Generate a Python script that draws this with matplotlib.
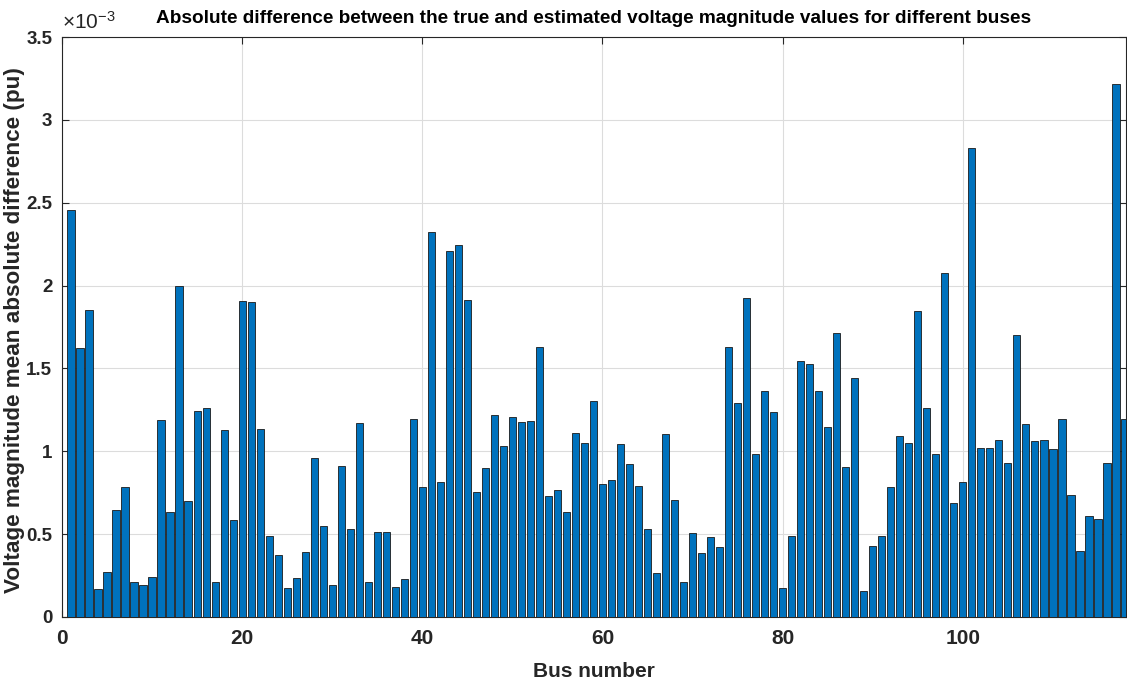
#!/usr/bin/env python3
import matplotlib
matplotlib.use('Agg')
import matplotlib.pyplot as plt
from matplotlib.ticker import FuncFormatter
import numpy as np

# bus numbers 1..118 and mean absolute difference (x 1e-3 pu)
buses = np.arange(1, 119)
diff_e3 = [
    2.454, 1.625, 1.850, 0.169, 0.271, 0.646, 0.785, 0.211, 0.194, 0.238,
    1.188, 0.632, 1.998, 0.701, 1.241, 1.259, 0.211, 1.130, 0.586, 1.910,
    1.903, 1.137, 0.486, 0.375, 0.176, 0.234, 0.394, 0.961, 0.549, 0.190,
    0.912, 0.532, 1.171, 0.208, 0.514, 0.514, 0.181, 0.231, 1.194, 0.782,
    2.324, 0.812, 2.206, 2.243, 1.914, 0.755, 0.896, 1.220, 1.030, 1.206,
    1.178, 1.183, 1.627, 0.727, 0.766, 0.632, 1.111, 1.049, 1.306, 0.803,
    0.826, 1.044, 0.926, 0.792, 0.528, 0.264, 1.102, 0.704, 0.211, 0.505,
    0.387, 0.481, 0.421, 1.632, 1.289, 1.928, 0.986, 1.366, 1.236, 0.174,
    0.486, 1.542, 1.528, 1.361, 1.148, 1.715, 0.903, 1.440, 0.157, 0.426,
    0.491, 0.785, 1.090, 1.049, 1.845, 1.259, 0.986, 2.079, 0.690, 0.812,
    2.833, 1.019, 1.019, 1.065, 0.931, 1.699, 1.167, 1.060, 1.065, 1.014,
    1.194, 0.736, 0.398, 0.609, 0.590, 0.931, 3.217, 1.194,
]

fam = ['Liberation Sans', 'DejaVu Sans']
plt.rcParams['mathtext.fontset'] = 'custom'
plt.rcParams['mathtext.rm'] = 'Liberation Sans'
plt.rcParams['mathtext.it'] = 'Liberation Sans'

fig = plt.figure(figsize=(11.27, 6.87), dpi=100)
ax = fig.add_axes([0.055, 0.102, 0.944, 0.844])

ax.bar(buses, diff_e3, width=0.8, color='#0072BD', edgecolor='#1a1a1a',
       linewidth=0.6, zorder=3)

ax.set_xlim(0, 118.1)
ax.set_ylim(0, 3.5)
ax.set_xticks([0, 20, 40, 60, 80, 100])
ax.set_yticks(np.arange(0, 3.51, 0.5))
ax.yaxis.set_major_formatter(FuncFormatter(lambda v, p: '%g' % v))

ax.grid(True, color='#dcdcdc', linewidth=0.8, zorder=0)
ax.tick_params(direction='in', length=5, width=0.8, top=True, right=True,
               labelsize=13.5, colors='#262626')
ax.tick_params(axis='x', pad=9, labelsize=15)
ax.tick_params(axis='y', pad=7)
for lab in ax.get_xticklabels() + ax.get_yticklabels():
    lab.set_family(fam)
    lab.set_fontweight('bold')
for s in ax.spines.values():
    s.set_color('#262626')
    s.set_linewidth(0.8)

ax.set_xlabel('Bus number', fontsize=15, fontweight='bold', family=fam,
              color='#262626', labelpad=10)
fig.text(15 / 1127, 1 - 330 / 687, 'Voltage magnitude mean absolute difference (pu)',
         rotation=90, ha='center', va='center', fontsize=16.2,
         fontweight='bold', family=fam, color='#262626')
ax.set_title('Absolute difference between the true and estimated voltage magnitude values for different buses',
             fontsize=13.7, fontweight='bold', family=fam, pad=10)
ax.text(0.0, 1.008, r'$\times\mathregular{10^{-3}}$', transform=ax.transAxes,
        fontsize=15, family=fam, color='#262626', va='bottom', ha='left')

plt.savefig('out.png', dpi=100)
